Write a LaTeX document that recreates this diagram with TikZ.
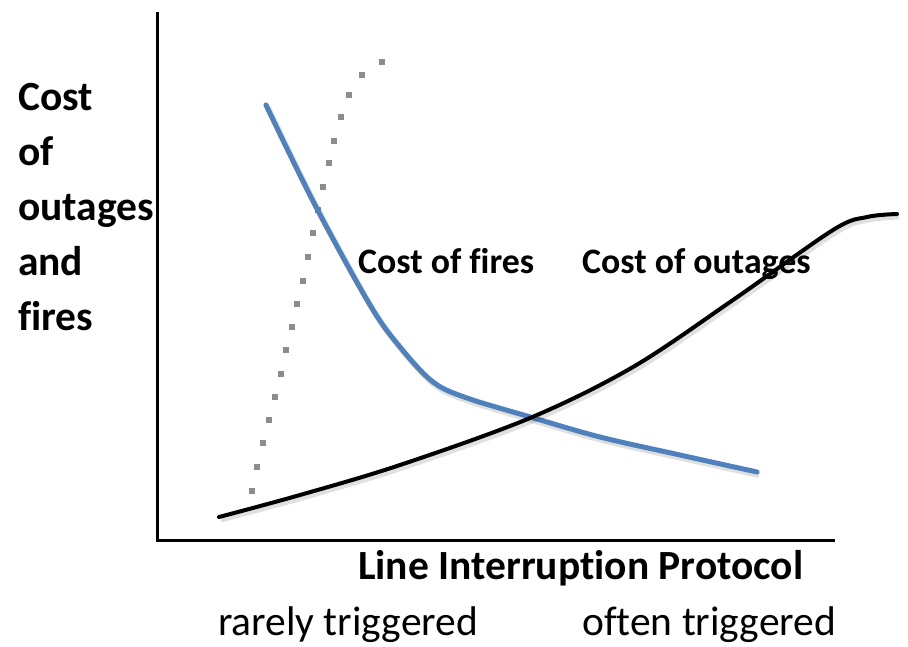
\documentclass[tikz,border=0pt]{standalone}
\usepackage{fontspec}
\setmainfont[Ligatures=NoCommon]{Carlito}
\definecolor{fireblue}{RGB}{79,129,189}
\definecolor{dotgray}{RGB}{140,140,140}
\tikzset{
  axisline/.style={line width=3pt},
  costcurve/.style={line width=#1,line cap=round,line join=round},
  shade line/.style={line width=#1,black,opacity=0.12,shift={(2,3)}},
  lbl/.style={anchor=base west,inner sep=0pt,font=\fontsize{35.8}{50}\selectfont\bfseries},
  ylbl/.style={anchor=base west,inner sep=0pt,align=left,font=\fontsize{41.5}{55}\selectfont\bfseries},
  xlbl/.style={anchor=base west,inner sep=0pt,font=\fontsize{41.5}{50}\selectfont\bfseries},
  endlbl/.style={anchor=base west,inner sep=0pt,font=\fontsize{41.5}{50}\selectfont},
}
\begin{document}
\begin{tikzpicture}[x=1pt,y=-1pt]
  \useasboundingbox (0,0) rectangle (908,646);
  % axes
  \draw[axisline] (157,12) -- (157,540) -- (835,540);
  % dotted limit curve
  \foreach \px/\py in {382/62,362/75,349/95,341/117,334/141,329/163,323/187,318/210,
      313/233,308/257,303/281,297/304,292/327,286/350,281/374,275/397,269/420,263/443,
      257/467,252/491}
    \fill[dotgray] (\px-3.3,\py-3.3) rectangle ++(6.6,6.6);
  % cost of fires
  \draw[shade line=6pt] plot[smooth,tension=0.55] coordinates {(266,105) (315,205) (370,305)
      (400,347) (433,382) (467,398) (527,416) (600,437) (680,455) (757,472)};
  \draw[costcurve=5pt,fireblue] plot[smooth,tension=0.55] coordinates {(266,105) (315,205) (370,305)
      (400,347) (433,382) (467,398) (527,416) (600,437) (680,455) (757,472)};
  % cost of outages
  \draw[shade line=5pt] plot[smooth,tension=0.55] coordinates {(219,517) (300,495) (400,465)
      (530,418) (633,367) (733,300) (833,230) (867,217) (897,214)};
  \draw[costcurve=4pt,black] plot[smooth,tension=0.55] coordinates {(219,517) (300,495) (400,465)
      (530,418) (633,367) (733,300) (833,230) (867,217) (897,214)};
  % labels
  \node[ylbl] (ylabel) at (18,330) {Cost\\of\\outages\\and\\fires};
  \node[lbl] (fires) at (358,273) {Cost of fires};
  \node[lbl] (outages) at (582,273) {Cost of outages};
  \node[xlbl] (xlabel) at (358,579) {Line Interruption Protocol};
  \node[endlbl] (rarely) at (218,635) {rarely triggered};
  \node[endlbl] (often) at (582,635) {often triggered};
\end{tikzpicture}
\end{document}
